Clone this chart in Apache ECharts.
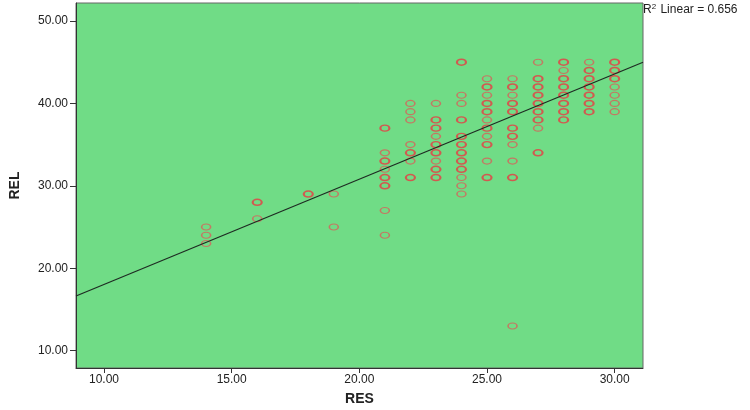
<!DOCTYPE html>
<html>
<head>
<meta charset="utf-8">
<script src="https://cdn.jsdelivr.net/npm/echarts@6/dist/echarts.min.js"></script>
<style>
html,body{margin:0;padding:0;background:#fff;}
#chart{width:750px;height:410px;}
</style>
</head>
<body>
<div id="chart"></div>
<script>
// RES values (x) with the REL values (y) observed in each column
const resValues = [14, 16, 18, 19, 21, 22, 23, 24, 25, 26, 27, 28, 29, 30];
const relColumns = [
  [25, 24, 23],
  [28, 26],
  [29],
  [29, 25],
  [37, 34, 33, 32, 31, 30, 27, 24],
  [40, 39, 38, 35, 34, 33, 31],
  [40, 38, 37, 36, 35, 34, 33, 32, 31],
  [45, 41, 40, 38, 36, 35, 34, 33, 32, 31, 30, 29],
  [43, 42, 41, 40, 39, 38, 37, 36, 35, 33, 31],
  [43, 42, 41, 40, 39, 37, 36, 35, 33, 31, 13],
  [45, 43, 42, 41, 40, 39, 38, 37, 34],
  [45, 44, 43, 42, 41, 40, 39, 38],
  [45, 44, 43, 42, 41, 40, 39],
  [45, 44, 43, 42, 41, 40, 39]
];
// points that appear overplotted (several cases at same spot)
const relRepeated = [
  [],
  [28],
  [29],
  [],
  [37, 33, 31, 30],
  [34, 31],
  [38, 37, 35, 34, 32, 31],
  [45, 38, 36, 35, 34, 33, 32],
  [42, 40, 39, 37, 35, 31],
  [42, 40, 39, 37, 36, 31],
  [43, 42, 41, 40, 39, 38, 34],
  [45, 43, 42, 41, 40, 39, 38],
  [44, 43, 42, 41, 40, 39],
  [45, 44, 43]
];
// fit line endpoints read at the plot edges
const fitX = [8.903, 31.11];
const fitY = [16.64, 45.0];
const xTicks = [10, 15, 20, 25, 30];
const yTicks = [10, 20, 30, 40, 50];
const r2Text = '0.656';

const single = [], multi = [];
resValues.forEach((x, i) => {
  relColumns[i].forEach(y => {
    (relRepeated[i].indexOf(y) >= 0 ? multi : single).push([x, y]);
  });
});

const FONT = 'Liberation Sans, Arial, sans-serif';
const chart = echarts.init(document.getElementById('chart'), null, {renderer: 'canvas'});
const tickFont = {fontFamily: FONT, fontSize: 12, color: '#222'};
chart.setOption({
  animation: false,
  backgroundColor: '#ffffff',
  title: {
    text: '{a|R}{s|2}{a| Linear = ' + r2Text + '}',
    left: 643, top: 3, padding: 0,
    textStyle: {
      fontWeight: 'normal',
      rich: {
        a: {fontFamily: FONT, fontSize: 12, fontWeight: 'normal', color: '#222', verticalAlign: 'bottom'},
        s: {fontFamily: FONT, fontSize: 8, fontWeight: 'normal', color: '#222', verticalAlign: 'top', padding: [0, 1, 5, 0]}
      }
    }
  },
  grid: {
    left: 76, right: 107, top: 3, bottom: 42,
    containLabel: false, outerBoundsMode: 'none',
    show: true, backgroundColor: '#70dc86', borderColor: '#666', borderWidth: 1
  },
  xAxis: {
    type: 'value', min: 8.903, max: 31.11,
    name: 'RES', nameLocation: 'middle', nameGap: 24,
    nameTextStyle: {fontFamily: FONT, fontSize: 14, fontWeight: 'bold', color: '#222'},
    splitLine: {show: false},
    axisLine: {show: true, lineStyle: {color: '#333', width: 1}},
    axisTick: {show: true, length: 5, inside: false, customValues: xTicks, lineStyle: {color: '#333'}},
    axisLabel: {customValues: xTicks, margin: 6, formatter: v => v.toFixed(2), ...tickFont}
  },
  yAxis: {
    type: 'value', min: 7.9, max: 52.18,
    name: 'REL', nameLocation: 'middle', nameGap: 54, nameRotate: 90,
    nameTextStyle: {fontFamily: FONT, fontSize: 14, fontWeight: 'bold', color: '#222'},
    splitLine: {show: false},
    axisLine: {show: true, lineStyle: {color: '#333', width: 1}},
    axisTick: {show: true, length: 6, inside: false, customValues: yTicks, lineStyle: {color: '#333'}},
    axisLabel: {customValues: yTicks, margin: 8, formatter: v => v.toFixed(2), ...tickFont}
  },
  series: [
    {
      type: 'line', data: fitX.map((x, i) => [x, fitY[i]]),
      symbol: 'none', lineStyle: {color: '#1e2a22', width: 1.2}, z: 3, silent: true
    },
    {
      type: 'scatter', data: single, symbol: 'circle', symbolSize: [9, 6],
      itemStyle: {color: 'rgba(0,0,0,0)', borderColor: '#d8605a', borderWidth: 1.3}, z: 2
    },
    {
      type: 'scatter', data: multi, symbol: 'circle', symbolSize: [9, 6],
      itemStyle: {color: 'rgba(0,0,0,0)', borderColor: '#ea3a42', borderWidth: 1.8}, z: 2
    }
  ]
});
</script>
</body>
</html>
